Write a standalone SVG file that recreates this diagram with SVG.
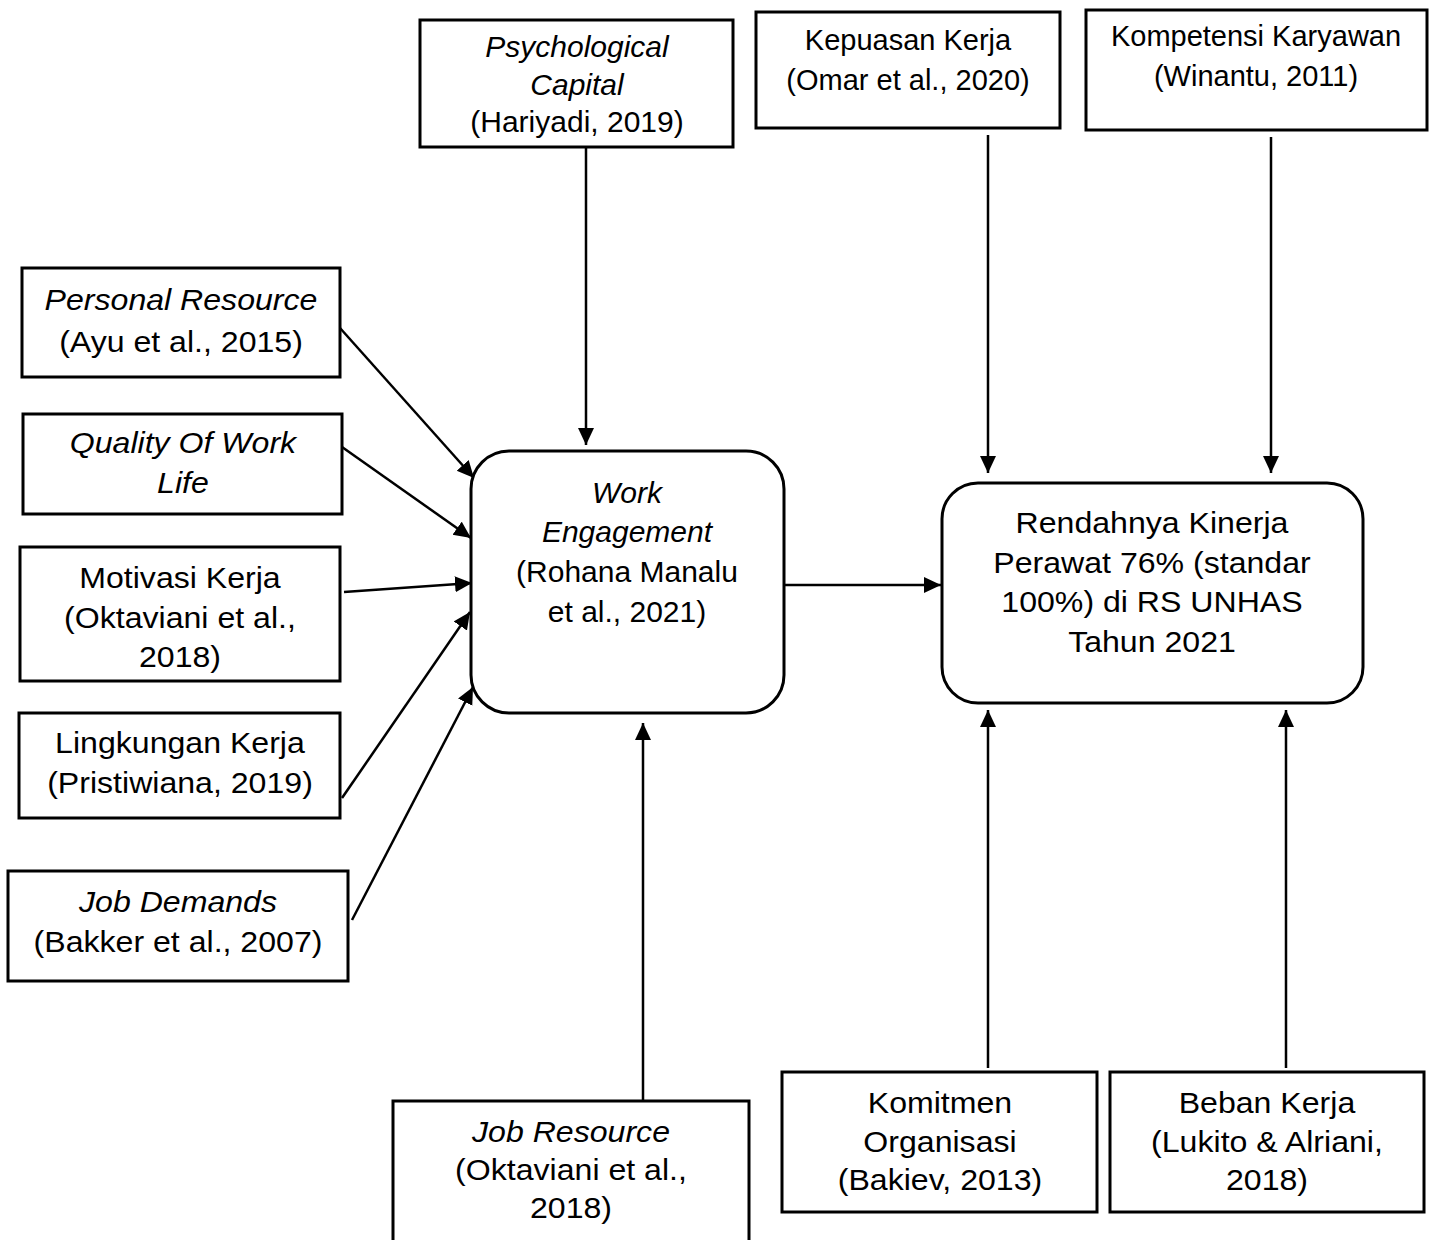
<svg xmlns="http://www.w3.org/2000/svg" width="1437" height="1240" viewBox="0 0 1437 1240">
<style>
.box{fill:#fff;stroke:#000;stroke-width:3}
.t{font-family:"Liberation Sans",Arial,sans-serif;font-size:30px;fill:#000;text-anchor:middle}
.s{font-size:29px}
.i{font-style:italic}
.w{transform-box:fill-box;transform-origin:center;transform:scaleX(1.07)}
.c{fill:none;stroke:#000;stroke-width:2.5}
</style>
<defs>
<marker id="ah" markerUnits="userSpaceOnUse" markerWidth="20" markerHeight="18" refX="17" refY="8" orient="auto">
<path d="M0,0 L17,8 L0,16 z" fill="#000"/>
</marker>
</defs>
<rect width="1437" height="1240" fill="#fff"/>
<g id="connectors">
<path class="c" d="M586,147 V445" marker-end="url(#ah)"/>
<path class="c" d="M988,135 V473" marker-end="url(#ah)"/>
<path class="c" d="M1271,137 V473" marker-end="url(#ah)"/>
<path class="c" d="M340,328 L474,478" marker-end="url(#ah)"/>
<path class="c" d="M342,447 L471,538" marker-end="url(#ah)"/>
<path class="c" d="M344,592 L472,583" marker-end="url(#ah)"/>
<path class="c" d="M342,798 L470,612" marker-end="url(#ah)"/>
<path class="c" d="M352,920 L473,687" marker-end="url(#ah)"/>
<path class="c" d="M784,585 H941" marker-end="url(#ah)"/>
<path class="c" d="M643,1101 V723" marker-end="url(#ah)"/>
<path class="c" d="M988,1068 V710" marker-end="url(#ah)"/>
<path class="c" d="M1286,1068 V710" marker-end="url(#ah)"/>
</g>
<g id="psych">
<rect class="box" x="420" y="20" width="313" height="127"/>
<text class="t i" x="577" y="57">Psychological</text>
<text class="t i" x="577" y="95">Capital</text>
<text class="t" x="577" y="132">(Hariyadi, 2019)</text>
</g>
<g id="kepuasan">
<rect class="box" x="756" y="12" width="304" height="116"/>
<text class="t s" x="908" y="50">Kepuasan Kerja</text>
<text class="t s" x="908" y="90">(Omar et al., 2020)</text>
</g>
<g id="kompetensi">
<rect class="box" x="1086" y="10" width="341" height="120"/>
<text class="t s" x="1256" y="46">Kompetensi Karyawan</text>
<text class="t s" x="1256" y="86">(Winantu, 2011)</text>
</g>
<g id="personal">
<rect class="box" x="22" y="268" width="318" height="109"/>
<text class="t i w" x="181" y="310">Personal Resource</text>
<text class="t w" x="181" y="352">(Ayu et al., 2015)</text>
</g>
<g id="quality">
<rect class="box" x="23" y="414" width="319" height="100"/>
<text class="t i w" x="183" y="453">Quality Of Work</text>
<text class="t i w" x="183" y="493">Life</text>
</g>
<g id="motivasi">
<rect class="box" x="20" y="547" width="320" height="134"/>
<text class="t w" x="180" y="588">Motivasi Kerja</text>
<text class="t w" x="180" y="628">(Oktaviani et al.,</text>
<text class="t w" x="180" y="667">2018)</text>
</g>
<g id="lingkungan">
<rect class="box" x="19" y="713" width="321" height="105"/>
<text class="t w" x="180" y="753">Lingkungan Kerja</text>
<text class="t w" x="180" y="793">(Pristiwiana, 2019)</text>
</g>
<g id="jobdemands">
<rect class="box" x="8" y="871" width="340" height="110"/>
<text class="t i w" x="178" y="912">Job Demands</text>
<text class="t w" x="178" y="952">(Bakker et al., 2007)</text>
</g>
<g id="workengagement">
<rect class="box" x="471" y="451" width="313" height="262" rx="38" ry="38"/>
<text class="t i" x="627" y="503">Work</text>
<text class="t i" x="627" y="542">Engagement</text>
<text class="t" x="627" y="582">(Rohana Manalu</text>
<text class="t" x="627" y="622">et al., 2021)</text>
</g>
<g id="rendahnya">
<rect class="box" x="942" y="483" width="421" height="220" rx="36" ry="36"/>
<text class="t w" x="1152" y="533">Rendahnya Kinerja</text>
<text class="t w" x="1152" y="573">Perawat 76% (standar</text>
<text class="t w" x="1152" y="612">100%) di RS UNHAS</text>
<text class="t w" x="1152" y="652">Tahun 2021</text>
</g>
<g id="jobresource">
<rect class="box" x="393" y="1101" width="356" height="160"/>
<text class="t i w" x="571" y="1142">Job Resource</text>
<text class="t w" x="571" y="1180">(Oktaviani et al.,</text>
<text class="t w" x="571" y="1218">2018)</text>
</g>
<g id="komitmen">
<rect class="box" x="782" y="1072" width="315" height="140"/>
<text class="t w" x="940" y="1113">Komitmen</text>
<text class="t w" x="940" y="1152">Organisasi</text>
<text class="t w" x="940" y="1190">(Bakiev, 2013)</text>
</g>
<g id="beban">
<rect class="box" x="1110" y="1072" width="314" height="140"/>
<text class="t w" x="1267" y="1113">Beban Kerja</text>
<text class="t w" x="1267" y="1152">(Lukito &amp; Alriani,</text>
<text class="t w" x="1267" y="1190">2018)</text>
</g>
</svg>
